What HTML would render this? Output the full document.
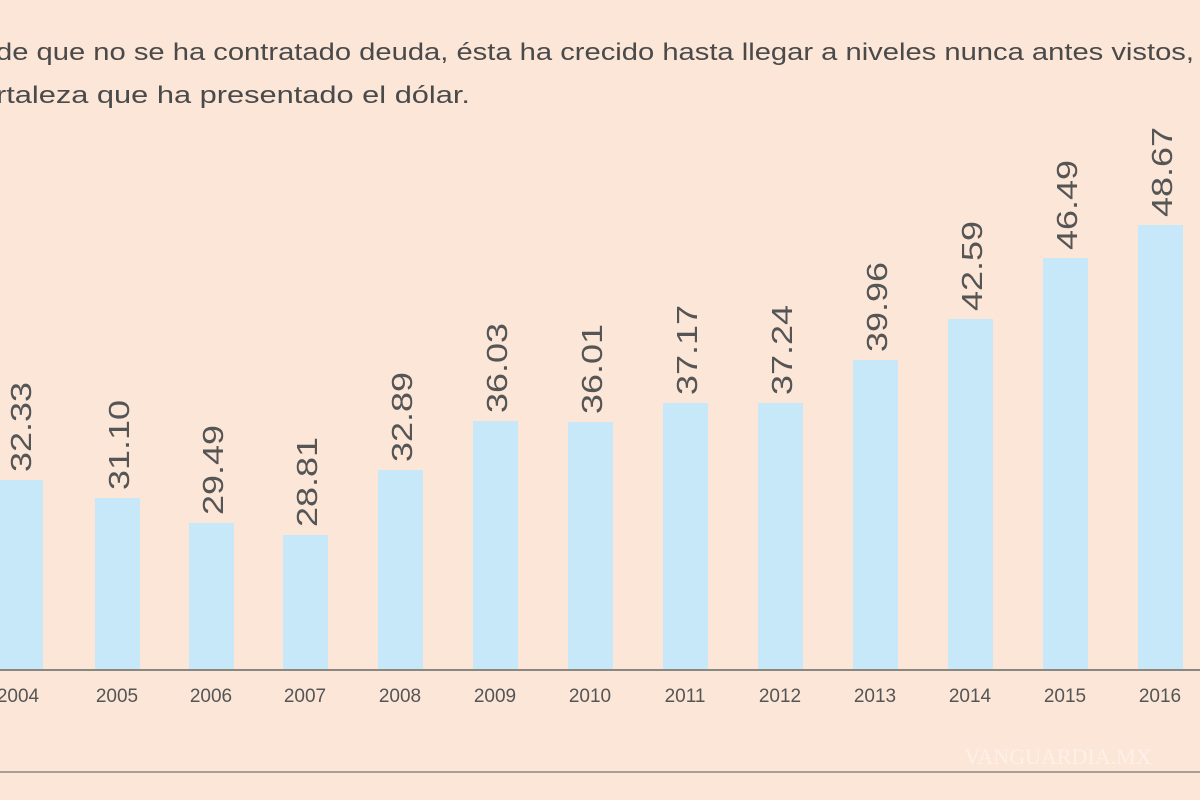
<!DOCTYPE html>
<html><head><meta charset="utf-8"><style>
html,body{margin:0;padding:0;background:#fbe6d8;}
svg{display:block}
</style></head><body>
<svg width="1200" height="800" viewBox="0 0 1200 800" xmlns="http://www.w3.org/2000/svg">
<rect width="1200" height="800" fill="#fbe6d8"/>
<g font-family="Liberation Sans, sans-serif" fill="#4a4a4a" font-size="24">
<text x="-4" y="60" textLength="1198" lengthAdjust="spacingAndGlyphs">de que no se ha contratado deuda, ésta ha crecido hasta llegar a niveles nunca antes vistos,</text>
<text x="-4" y="103" textLength="474" lengthAdjust="spacingAndGlyphs">rtaleza que ha presentado el dólar.</text>
</g>
<g fill="#c6e8f8">
<rect x="-3" y="480" width="46" height="190"/>
<rect x="95" y="498" width="45" height="172"/>
<rect x="189" y="523" width="45" height="147"/>
<rect x="283" y="535" width="45" height="135"/>
<rect x="378" y="470" width="45" height="200"/>
<rect x="473" y="421" width="45" height="249"/>
<rect x="568" y="422" width="45" height="248"/>
<rect x="663" y="403" width="45" height="267"/>
<rect x="758" y="403" width="45" height="267"/>
<rect x="853" y="360" width="45" height="310"/>
<rect x="948" y="319" width="45" height="351"/>
<rect x="1043" y="258" width="45" height="412"/>
<rect x="1138" y="225" width="45" height="445"/>
</g>
<line x1="0" y1="670" x2="1200" y2="670" stroke="#8a8680" stroke-width="2"/>
<line x1="0" y1="772" x2="1200" y2="772" stroke="#a8a098" stroke-width="2"/>
<g font-family="Liberation Sans, sans-serif" fill="#555" font-size="29">
<text transform="translate(31,472) rotate(-90)" textLength="90" lengthAdjust="spacingAndGlyphs">32.33</text>
<text transform="translate(129,490) rotate(-90)" textLength="90" lengthAdjust="spacingAndGlyphs">31.10</text>
<text transform="translate(223,515) rotate(-90)" textLength="90" lengthAdjust="spacingAndGlyphs">29.49</text>
<text transform="translate(317,527) rotate(-90)" textLength="90" lengthAdjust="spacingAndGlyphs">28.81</text>
<text transform="translate(412,462) rotate(-90)" textLength="90" lengthAdjust="spacingAndGlyphs">32.89</text>
<text transform="translate(507,413) rotate(-90)" textLength="90" lengthAdjust="spacingAndGlyphs">36.03</text>
<text transform="translate(602,414) rotate(-90)" textLength="90" lengthAdjust="spacingAndGlyphs">36.01</text>
<text transform="translate(697,395) rotate(-90)" textLength="90" lengthAdjust="spacingAndGlyphs">37.17</text>
<text transform="translate(792,395) rotate(-90)" textLength="90" lengthAdjust="spacingAndGlyphs">37.24</text>
<text transform="translate(887,352) rotate(-90)" textLength="90" lengthAdjust="spacingAndGlyphs">39.96</text>
<text transform="translate(982,311) rotate(-90)" textLength="90" lengthAdjust="spacingAndGlyphs">42.59</text>
<text transform="translate(1077,250) rotate(-90)" textLength="90" lengthAdjust="spacingAndGlyphs">46.49</text>
<text transform="translate(1172,217) rotate(-90)" textLength="90" lengthAdjust="spacingAndGlyphs">48.67</text>
</g>
<g font-family="Liberation Sans, sans-serif" fill="#555" font-size="19" text-anchor="middle">
<text x="18" y="702">2004</text>
<text x="117" y="702">2005</text>
<text x="211" y="702">2006</text>
<text x="305" y="702">2007</text>
<text x="400" y="702">2008</text>
<text x="495" y="702">2009</text>
<text x="590" y="702">2010</text>
<text x="685" y="702">2011</text>
<text x="780" y="702">2012</text>
<text x="875" y="702">2013</text>
<text x="970" y="702">2014</text>
<text x="1065" y="702">2015</text>
<text x="1160" y="702">2016</text>
</g>
<text x="1058" y="764" text-anchor="middle" font-family="Liberation Serif, serif" font-size="22" fill="#fff3ec" opacity="0.8">VANGUARDIA.MX</text>
</svg>
</body></html>
